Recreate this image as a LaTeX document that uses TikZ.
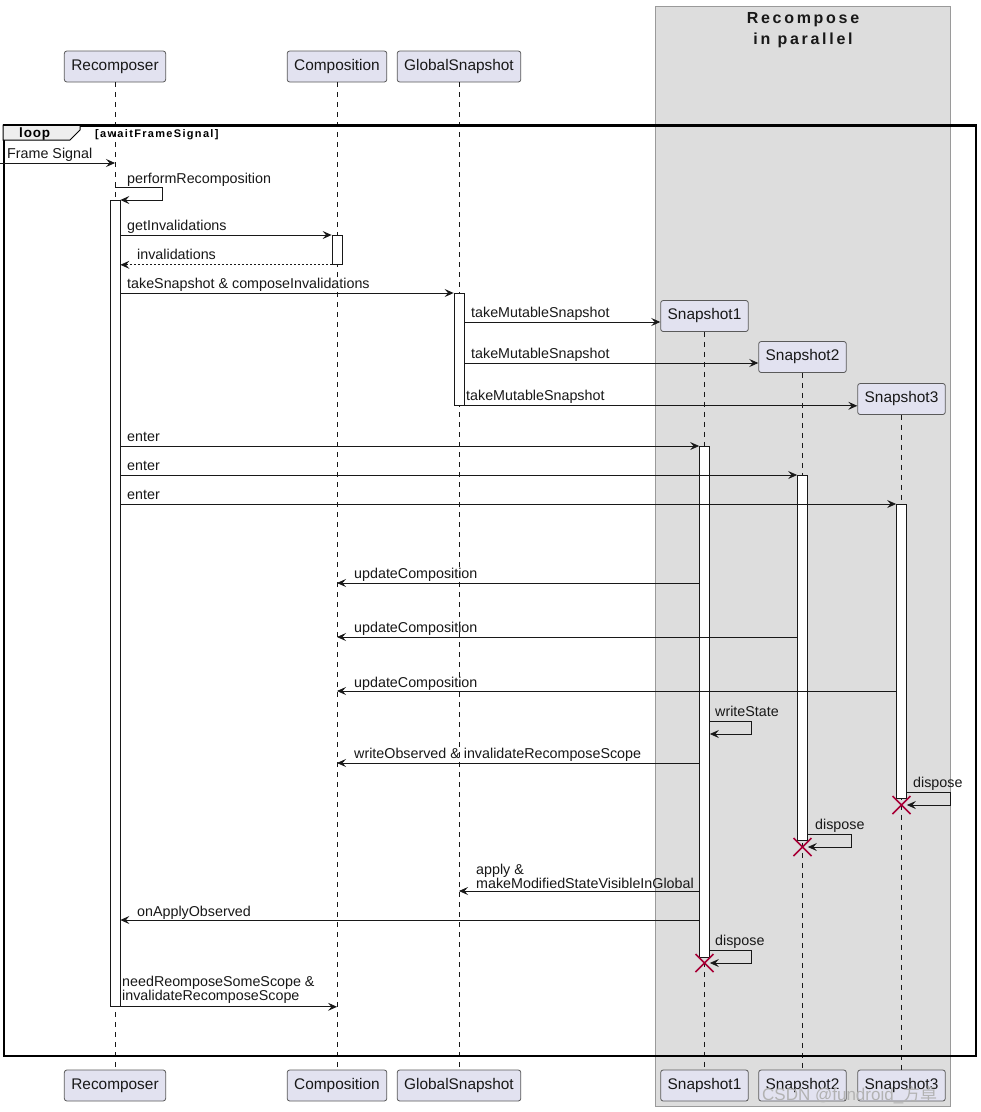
\documentclass[tikz,border=0pt]{standalone}
\usepackage{fontspec}
\setmainfont{Liberation Sans}
\newfontfamily\titlef[LetterSpace=17]{Liberation Sans}
\newfontfamily\condf[LetterSpace=12]{Liberation Sans}
\newfontfamily\loopf[LetterSpace=6]{Liberation Sans}
\newfontfamily\cjk{Noto Sans CJK SC}
\usetikzlibrary{arrows.meta}
\definecolor{partfill}{HTML}{E2E2F0}
\definecolor{partdraw}{HTML}{5A5A5A}
\definecolor{grpfill}{HTML}{DDDDDD}
\definecolor{grpdraw}{HTML}{9A9A9A}
\definecolor{ln}{HTML}{181818}
\definecolor{destroyc}{HTML}{A80036}
\definecolor{tabfill}{HTML}{EEEEEE}
\begin{document}
\begin{tikzpicture}[x=1pt,y=-1pt,
  part/.style={draw=partdraw, fill=partfill, rounded corners=2.5pt, line width=0.8pt,
    minimum height=31pt, inner xsep=7pt, inner ysep=0pt, text=ln, font=\fontsize{15.4}{18}\selectfont},
  life/.style={draw=ln, dash pattern=on 5pt off 5pt, line width=0.5pt},
  act/.style={draw=ln, fill=white, line width=0.8pt, minimum width=10pt, inner sep=0pt, anchor=north},
  msg/.style={draw=ln, line width=0.8pt, -{Stealth[length=9pt,width=8pt,inset=3.5pt]}},
  ret/.style={msg, dash pattern=on 2pt off 2pt},
  lbl/.style={anchor=base west, inner sep=0pt, text=ln, font=\fontsize{14.3}{14}\selectfont},
  lbl2/.style={lbl, align=left, anchor=south west, font=\fontsize{14.3}{14}\selectfont},
  xmark/.style={draw=destroyc, line width=1.6pt}
]
\useasboundingbox (0,0) rectangle (981,1112);
\fill[white] (0,0) rectangle (981,1112);

% group box
\node[draw=grpdraw, fill=grpfill, line width=0.8pt, minimum width=295pt, minimum height=1100pt,
  anchor=north west, inner sep=0pt] (grp) at (655,6) {};
\node[anchor=base, inner sep=0pt, text=ln, font=\fontsize{16}{21}\titlef\bfseries] (gt1) at (803,23) {Recompose};
\node[anchor=base, inner sep=0pt, text=ln, font=\fontsize{16}{21}\titlef\bfseries] (gt2) at (803,44) {in parallel};

% participants
\node[part] (pRecT) at (115,66.5) {Recomposer};
\node[part] (pCompT) at (337,66.5) {Composition};
\node[part] (pGlobT) at (459,66.5) {GlobalSnapshot};
\node[part] (pRecB) at (115,1085.5) {Recomposer};
\node[part] (pCompB) at (337,1085.5) {Composition};
\node[part] (pGlobB) at (459,1085.5) {GlobalSnapshot};
\node[part] (pS1) at (704.5,316) {Snapshot1};
\node[part] (pS2) at (802.5,357) {Snapshot2};
\node[part] (pS3) at (901.5,399) {Snapshot3};
\node[part] (pS1B) at (704.5,1085.5) {Snapshot1};
\node[part] (pS2B) at (802.5,1085.5) {Snapshot2};
\node[part] (pS3B) at (901.5,1085.5) {Snapshot3};

% lifelines
\draw[life] (pRecT.south) -- (pRecB.north);
\draw[life] (pCompT.south) -- (pCompB.north);
\draw[life] (pGlobT.south) -- (pGlobB.north);
\draw[life] (pS1.south) -- (pS1B.north);
\draw[life] (pS2.south) -- (pS2B.north);
\draw[life] (pS3.south) -- (pS3B.north);

% loop frame
\node[draw=black, line width=2pt, minimum width=972pt, minimum height=930pt, anchor=north west, inner sep=0pt] (loopf) at (3,125) {};
\draw[black, line width=1pt, fill=tabfill] (loopf.north west) -- ++(77,0) -- ++(0,5) -- ++(-10,10) -- ++(-67,0) -- cycle;
\draw[black, line width=2pt] (loopf.north west) -- (loopf.north east);
\node[anchor=base west, inner sep=0pt, font=\fontsize{13.5}{14}\loopf\bfseries] (looplbl) at (19,137.5) {loop};
\node[anchor=base west, inner sep=0pt, font=\fontsize{11}{12}\condf\bfseries] (loopcond) at (95,137) {[awaitFrameSignal]};

% activations
\node[act, minimum height=806pt] (aRec) at (115,200) {};
\node[act, minimum height=29pt] (aComp) at (337,235) {};
\node[act, minimum height=112pt] (aGlob) at (459,293) {};
\node[act, minimum height=511pt] (aS1) at (704.5,446) {};
\node[act, minimum height=365pt] (aS2) at (802.5,475) {};
\node[act, minimum height=294pt] (aS3) at (901.5,504) {};

% Frame Signal
\coordinate (fsStart) at (0,163);
\draw[msg] (fsStart) -- (pRecT |- fsStart);
\node[lbl] at (7,158) {Frame Signal};

% performRecomposition
\coordinate (prStart) at (115,187);
\draw[msg] (prStart) -- ++(47,0) -- ++(0,13) -- (aRec.north east);
\node[lbl] at (127,183) {performRecomposition};

% getInvalidations
\draw[msg] (aRec.east |- 0,235) -- (aComp.north west);
\node[lbl] at (127,230) {getInvalidations};
\draw[ret] (aComp.south west) -- (aRec.east |- aComp.south);
\node[lbl] at (137,259) {invalidations};

% takeSnapshot
\draw[msg] (aRec.east |- 0,293) -- (aGlob.north west);
\node[lbl] at (127,288) {takeSnapshot \& composeInvalidations};

% takeMutableSnapshot
\draw[msg] (aGlob.east |- 0,322) -- (pS1.west |- 0,322);
\node[lbl] at (471,317) {takeMutableSnapshot};
\draw[msg] (aGlob.east |- 0,363) -- (pS2.west |- 0,363);
\node[lbl] at (471,358) {takeMutableSnapshot};
\draw[msg] (aGlob.south east) -- (pS3.west |- aGlob.south);
\node[lbl] at (466,400) {takeMutableSnapshot};

% enter
\draw[msg] (aRec.east |- aS1.north) -- (aS1.north west);
\node[lbl] at (127,441) {enter};
\draw[msg] (aRec.east |- aS2.north) -- (aS2.north west);
\node[lbl] at (127,470) {enter};
\draw[msg] (aRec.east |- aS3.north) -- (aS3.north west);
\node[lbl] at (127,499) {enter};

% updateComposition
\draw[msg] (aS1.west |- 0,583) -- (pCompT |- 0,583);
\node[lbl] at (354,578) {updateComposition};
\draw[msg] (aS2.west |- 0,637) -- (pCompT |- 0,637);
\node[lbl] at (354,632) {updateComposition};
\draw[msg] (aS3.west |- 0,691) -- (pCompT |- 0,691);
\node[lbl] at (354,687) {updateComposition};

% writeState
\draw[msg] (aS1.east |- 0,721) -- ++(41,0) -- ++(0,13) -- (aS1.east |- 0,734);
\node[lbl] at (715,716) {writeState};

% writeObserved
\draw[msg] (aS1.west |- 0,763) -- (pCompT |- 0,763);
\node[lbl] at (354,758) {writeObserved \& invalidateRecomposeScope};

% dispose Snapshot3
\draw[msg] (aS3.east |- 0,792) -- ++(43,0) -- ++(0,13) -- (aS3.east |- 0,805);
\node[lbl] at (913,787) {dispose};
\coordinate (x3) at (pS3 |- 0,805);
\draw[xmark] ([shift={(-9,-9)}]x3) -- ([shift={(9,9)}]x3) ([shift={(-9,9)}]x3) -- ([shift={(9,-9)}]x3);

% dispose Snapshot2
\draw[msg] (aS2.east |- 0,834) -- ++(43,0) -- ++(0,13) -- (aS2.east |- 0,847);
\node[lbl] at (815,829) {dispose};
\coordinate (x2) at (pS2 |- 0,847);
\draw[xmark] ([shift={(-9,-9)}]x2) -- ([shift={(9,9)}]x2) ([shift={(-9,9)}]x2) -- ([shift={(9,-9)}]x2);

% apply
\draw[msg] (aS1.west |- 0,891) -- (pGlobT |- 0,891);
\node[lbl2] at (476,889) {apply \&\\makeModifiedStateVisibleInGlobal};

% onApplyObserved
\draw[msg] (aS1.west |- 0,920) -- (aRec.east |- 0,920);
\node[lbl] at (137,916) {onApplyObserved};

% dispose Snapshot1
\draw[msg] (aS1.east |- 0,950) -- ++(41,0) -- ++(0,13) -- (aS1.east |- 0,963);
\node[lbl] at (715,945) {dispose};
\coordinate (x1) at (pS1 |- 0,963);
\draw[xmark] ([shift={(-9,-9)}]x1) -- ([shift={(9,9)}]x1) ([shift={(-9,9)}]x1) -- ([shift={(9,-9)}]x1);

% needReomposeSomeScope
\draw[msg] (aRec.south east) -- (pCompT |- aRec.south);
\node[lbl2] at (122,1004) {needReomposeSomeScope \&\\invalidateRecomposeScope};

% watermark
\node[anchor=base west, inner sep=0pt, text=black!30, font=\fontsize{17}{18}\selectfont] (wm) at (762,1100) {CSDN @fundroid\_{\cjk 方卓}};
\end{tikzpicture}
\end{document}
